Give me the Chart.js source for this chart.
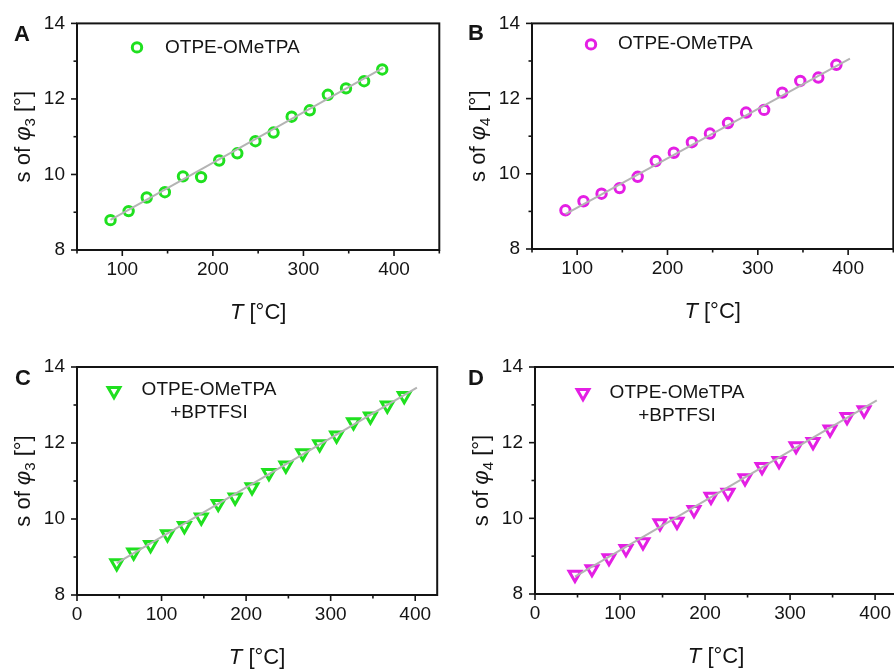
<!DOCTYPE html>
<html>
<head>
<meta charset="utf-8">
<script src="https://cdn.jsdelivr.net/npm/chart.js@4.4.0/dist/chart.umd.min.js"></script>
<style>
  html, body { margin: 0; padding: 0; background: #fff; overflow: hidden; width: 894px; height: 670px; }
  .panel { position: absolute; }
</style>
</head>
<body>
<div class="panel" style="left:0;top:0"><canvas id="chartA" width="447" height="335"></canvas></div>
<div class="panel" style="left:447px;top:0"><canvas id="chartB" width="454" height="335"></canvas></div>
<div class="panel" style="left:0;top:340px"><canvas id="chartC" width="447" height="330"></canvas></div>
<div class="panel" style="left:447px;top:340px"><canvas id="chartD" width="460" height="330"></canvas></div>
<script>
// temperatures (°C) and spread of the dihedral angles
const tempsAB = [87, 107, 127, 147, 167, 187, 207, 227, 247, 267, 287, 307, 327, 347, 367, 387];
const sPhi3A = [8.79, 9.03, 9.39, 9.53, 9.95, 9.93, 10.37, 10.56, 10.88, 11.11, 11.53, 11.70, 12.11, 12.28, 12.47, 12.78];
const sPhi4B = [9.03, 9.27, 9.47, 9.62, 9.92, 10.34, 10.56, 10.84, 11.07, 11.35, 11.63, 11.70, 12.16, 12.47, 12.56, 12.90];

const tempsCD = [47, 67, 87, 107, 127, 147, 167, 187, 207, 227, 247, 267, 287, 307, 327, 347, 367, 387];
const sPhi3C = [8.84, 9.12, 9.32, 9.60, 9.82, 10.04, 10.40, 10.57, 10.84, 11.21, 11.41, 11.73, 11.97, 12.20, 12.55, 12.70, 12.99, 13.24];
const sPhi4D = [8.51, 8.66, 8.95, 9.19, 9.37, 9.87, 9.91, 10.22, 10.57, 10.68, 11.06, 11.36, 11.52, 11.91, 12.02, 12.35, 12.68, 12.86];

// linear fits (end points)
const fitTA = [87, 388], fitSA = [8.80, 12.82];
const fitTB = [87, 402], fitSB = [8.93, 13.06];
const fitTC = [47, 402], fitSC = [8.84, 13.46];
const fitTD = [47, 402], fitSD = [8.46, 13.12];

// axis ticks
const yMajor = [8, 10, 12, 14];
const yMinor = [9, 11, 13];
const xMajorAB = [100, 200, 300, 400];
const xMinorAB = [50, 150, 250, 350, 450];
const xMajorCD = [0, 100, 200, 300, 400];
const xMinorCD = [50, 150, 250, 350];

const legendTop = ['OTPE-OMeTPA'];
const legendBottom = ['OTPE-OMeTPA', '+BPTFSI'];

const GREEN = '#1fe01f';
const MAGENTA = '#e41fe4';
const FIT = '#b4b4b4';
const INK = '#141414';
const FAM = '"Liberation Sans", Arial, sans-serif';

Chart.defaults.font.family = FAM;
Chart.defaults.font.size = 19;
Chart.defaults.color = INK;

const pair = (xs, ys) => xs.map((x, i) => ({ x: x, y: ys[i] }));

function drawParts(ctx, parts, x, y) {
  let w = 0;
  parts.forEach(p => { ctx.font = p.font; w += ctx.measureText(p.text).width; });
  let cx = x - w / 2;
  parts.forEach(p => {
    ctx.font = p.font;
    ctx.fillText(p.text, cx, y + (p.dy || 0));
    cx += ctx.measureText(p.text).width;
  });
}

const panelDeco = {
  id: 'panelDeco',
  afterDraw(chart, args, o) {
    const { ctx, chartArea: a, scales: { x, y } } = chart;
    ctx.save();
    ctx.strokeStyle = INK;
    ctx.lineWidth = 2;
    ctx.strokeRect(a.left, a.top, a.right - a.left, a.bottom - a.top);

    // outward tick marks
    ctx.lineWidth = 1.6;
    const tickX = (v, len) => {
      const px = x.getPixelForValue(v);
      ctx.beginPath(); ctx.moveTo(px, a.bottom); ctx.lineTo(px, a.bottom + len); ctx.stroke();
    };
    const tickY = (v, len) => {
      const py = y.getPixelForValue(v);
      ctx.beginPath(); ctx.moveTo(a.left, py); ctx.lineTo(a.left - len, py); ctx.stroke();
    };
    o.xMajor.forEach(v => tickX(v, 6));
    o.xMinor.forEach(v => tickX(v, 3.5));
    yMajor.forEach(v => tickY(v, 6));
    yMinor.forEach(v => tickY(v, 3.5));

    ctx.fillStyle = INK;
    ctx.textAlign = 'left';
    ctx.textBaseline = 'alphabetic';

    // panel letter
    ctx.font = 'bold 22px ' + FAM;
    ctx.fillText(o.letter, o.letterX, o.letterY);

    // x title
    drawParts(ctx, [
      { text: 'T', font: 'italic 22px ' + FAM },
      { text: ' [\u00b0C]', font: '22px ' + FAM }
    ], (a.left + a.right) / 2, a.bottom + 69);

    // y title, rotated
    ctx.save();
    ctx.translate(a.left - 47, (a.top + a.bottom) / 2);
    ctx.rotate(-Math.PI / 2);
    drawParts(ctx, [
      { text: 's of ', font: '22px ' + FAM },
      { text: '\u03c6', font: 'italic 22px ' + FAM },
      { text: o.sub, font: '15px ' + FAM, dy: 5 },
      { text: ' [\u00b0]', font: '22px ' + FAM }
    ], 0, 0);
    ctx.restore();

    // legend
    const lg = o.legend;
    ctx.strokeStyle = o.color;
    ctx.fillStyle = 'rgba(0,0,0,0)';
    ctx.lineWidth = 3;
    Chart.helpers.drawPoint(ctx, {
      pointStyle: o.pointStyle, rotation: o.rotation, radius: o.radius, borderWidth: 3
    }, a.left + lg.mx, a.top + lg.my);
    ctx.fillStyle = INK;
    ctx.font = '19px ' + FAM;
    ctx.textAlign = lg.align;
    lg.lines.forEach((t, i) => ctx.fillText(t, a.left + lg.tx, a.top + lg.ty + i * 23));
    ctx.restore();
  }
};

function makePanel(id, p) {
  const canvas = document.getElementById(id);
  new Chart(canvas, {
    type: 'scatter',
    data: {
      datasets: [
        {
          data: pair(p.temps, p.values),
          pointStyle: p.pointStyle,
          rotation: p.rotation,
          radius: p.radius,
          borderColor: p.color,
          backgroundColor: 'rgba(0,0,0,0)',
          borderWidth: 3,
          order: 1
        },
        {
          data: pair(p.fitT, p.fitS),
          showLine: true,
          borderColor: FIT,
          borderWidth: 2,
          pointRadius: 0,
          order: 0
        }
      ]
    },
    options: {
      responsive: false,
      animation: false,
      events: [],
      layout: { padding: { top: p.top, right: canvas.width - p.right, left: 0, bottom: 0 } },
      plugins: {
        legend: { display: false },
        tooltip: { enabled: false },
        panelDeco: {
          letter: p.letter, letterX: p.letterX, letterY: p.letterY,
          sub: p.sub, xMajor: p.xMajor, xMinor: p.xMinor,
          color: p.color, pointStyle: p.pointStyle, rotation: p.rotation, radius: p.radius,
          legend: p.legend
        }
      },
      scales: {
        x: {
          type: 'linear',
          min: p.xMin, max: p.xMax,
          afterBuildTicks: s => { s.ticks = p.xMajor.map(v => ({ value: v })); },
          afterFit: s => { s.height = canvas.height - p.bottom; },
          grid: { display: false, drawTicks: false },
          border: { display: false },
          ticks: { padding: 8, maxRotation: 0 }
        },
        y: {
          min: 8, max: 14,
          afterBuildTicks: s => { s.ticks = yMajor.map(v => ({ value: v })); },
          afterFit: s => { s.width = p.left; },
          grid: { display: false, drawTicks: false },
          border: { display: false },
          ticks: { padding: 12 }
        }
      }
    },
    plugins: [panelDeco]
  });
}

makePanel('chartA', {
  temps: tempsAB, values: sPhi3A, fitT: fitTA, fitS: fitSA,
  pointStyle: 'circle', rotation: 0, radius: 4.7, color: GREEN,
  left: 77, top: 22, right: 440, bottom: 250, xMin: 50, xMax: 450,
  xMajor: xMajorAB, xMinor: xMinorAB, sub: '3',
  letter: 'A', letterX: 14, letterY: 41,
  legend: { mx: 60, my: 24, tx: 88, ty: 30, align: 'left', lines: legendTop }
});

makePanel('chartB', {
  temps: tempsAB, values: sPhi4B, fitT: fitTB, fitS: fitSB,
  pointStyle: 'circle', rotation: 0, radius: 4.7, color: MAGENTA,
  left: 85, top: 21, right: 447, bottom: 249, xMin: 50, xMax: 450,
  xMajor: xMajorAB, xMinor: xMinorAB, sub: '4',
  letter: 'B', letterX: 21, letterY: 40,
  legend: { mx: 59, my: 21, tx: 86, ty: 26, align: 'left', lines: legendTop }
});

makePanel('chartC', {
  temps: tempsCD, values: sPhi3C, fitT: fitTC, fitS: fitSC,
  pointStyle: 'triangle', rotation: 180, radius: 6.8, color: GREEN,
  left: 77, top: 27, right: 440, bottom: 255, xMin: 0, xMax: 426,
  xMajor: xMajorCD, xMinor: xMinorCD, sub: '3',
  letter: 'C', letterX: 15, letterY: 45,
  legend: { mx: 37, my: 24, tx: 132, ty: 28, align: 'center', lines: legendBottom }
});

makePanel('chartD', {
  temps: tempsCD, values: sPhi4D, fitT: fitTD, fitS: fitSD,
  pointStyle: 'triangle', rotation: 180, radius: 6.8, color: MAGENTA,
  left: 88, top: 27, right: 452, bottom: 254, xMin: 0, xMax: 426,
  xMajor: xMajorCD, xMinor: xMinorCD, sub: '4',
  letter: 'D', letterX: 21, letterY: 45,
  legend: { mx: 48, my: 26, tx: 142, ty: 31, align: 'center', lines: legendBottom }
});
</script>
</body>
</html>
